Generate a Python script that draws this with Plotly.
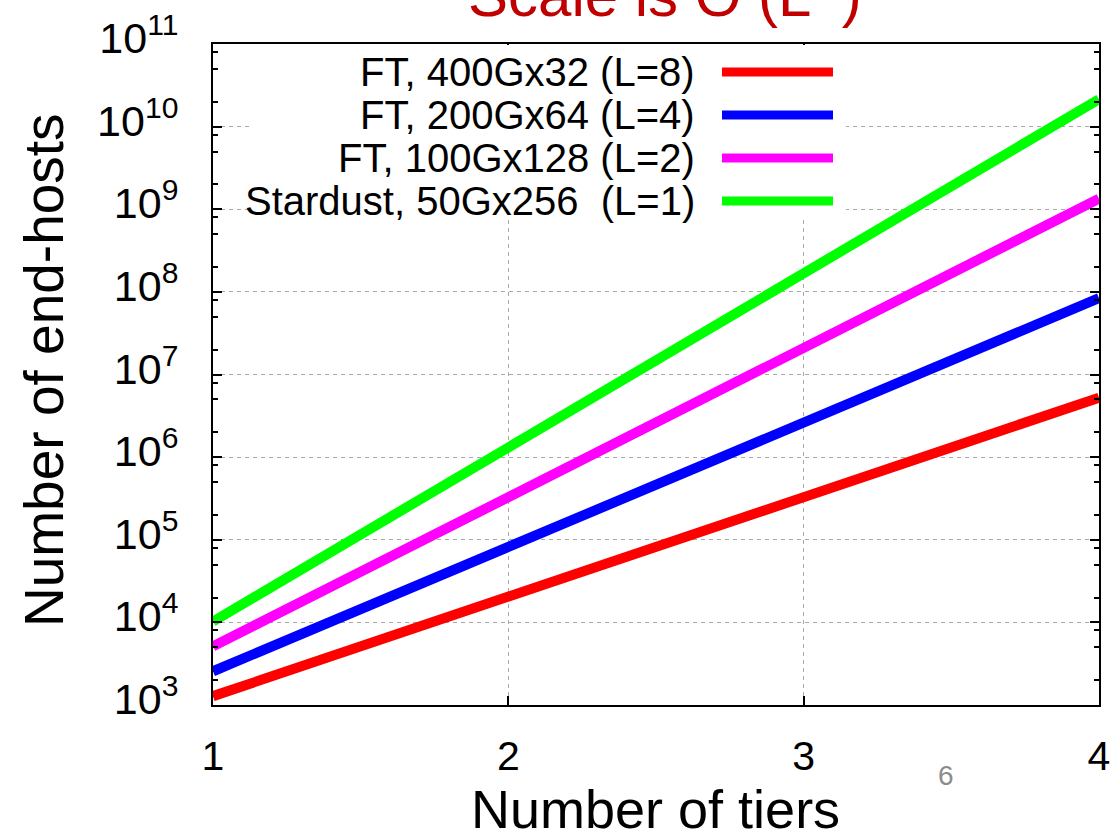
import plotly.graph_objects as go

# ---- data ----
tiers = [1, 2, 3, 4]
series_names = [
    "FT, 400Gx32 (L=8)",
    "FT, 200Gx64 (L=4)",
    "FT, 100Gx128 (L=2)",
    "Stardust, 50Gx256  (L=1)",
]
hosts_ft_400g = [1280, 20480, 327680, 5242880]
hosts_ft_200g = [2560, 81920, 2621440, 83886080]
hosts_ft_100g = [5120, 327680, 20971520, 1342177280]
hosts_stardust = [10240, 1310720, 167772160, 21474836480]
series_values = [hosts_ft_400g, hosts_ft_200g, hosts_ft_100g, hosts_stardust]
series_colors = ["#ff0000", "#0000ff", "#ff00ff", "#00ff00"]

y_exponents = list(range(3, 12))
y_tickvals = [10 ** e for e in y_exponents]
y_ticktext = ["10<sup>%d</sup>" % e for e in y_exponents]
x_tickvals = [1, 2, 3, 4]
x_ticktext = ["1", "2", "3", "4"]
minor_vals = [m * 10 ** e for e in range(3, 11) for m in (2, 5, 8)]

# ---- layout geometry (pixels) ----
W, H = 1110, 832
PL, PR, PT, PB = 213, 1099, 44, 705


def px_x(px):
    return (px - PL) / (PR - PL)


def px_y(py):
    return (PB - py) / (PB - PT)


FONT = "Liberation Sans, Arial, sans-serif"

fig = go.Figure()
for name, vals, col in zip(series_names, series_values, series_colors):
    fig.add_trace(go.Scatter(x=tiers, y=vals, mode="lines", name=name,
                             line=dict(color=col, width=10), showlegend=False))

axis_common = dict(
    showline=True, linecolor="#000000", linewidth=2, mirror="ticks",
    ticks="inside", ticklen=9, tickwidth=1.5, tickcolor="#000000",
    showgrid=True, gridcolor="#a8a8a8", gridwidth=1, griddash="4px,4px",
    zeroline=False, ticklabeloverflow="allow",
)

fig.update_xaxes(range=[1, 4], tickmode="array", tickvals=x_tickvals,
                 ticktext=x_ticktext, ticklabelstandoff=14,
                 tickfont=dict(family=FONT, size=41, color="#000000"),
                 **axis_common)
fig.update_yaxes(type="log", range=[3, 11], tickmode="array",
                 tickvals=y_tickvals, ticktext=y_ticktext,
                 ticklabelstandoff=24, ticklabelshift=-6,
                 tickfont=dict(family=FONT, size=43, color="#000000"),
                 minor=dict(tickmode="array", tickvals=minor_vals, ticks="inside",
                            ticklen=5, tickwidth=1.5, tickcolor="#000000",
                            showgrid=False),
                 **axis_common)

shapes = []
annotations = []
# legend mask (opaque key area)
shapes.append(dict(type="rect", xref="paper", yref="paper",
                   x0=px_x(250), x1=px_x(846), y0=px_y(218), y1=px_y(45),
                   fillcolor="#ffffff", line=dict(width=0), layer="above"))
row_y = [72, 115, 158, 201]
for name, col, ry in zip(series_names, series_colors, row_y):
    annotations.append(dict(xref="paper", yref="paper", x=px_x(697), y=px_y(ry),
                            xanchor="right", yanchor="middle", showarrow=False,
                            text=name, font=dict(family=FONT, size=40, color="#000000")))
    shapes.append(dict(type="line", xref="paper", yref="paper",
                       x0=px_x(722), x1=px_x(833), y0=px_y(ry), y1=px_y(ry),
                       line=dict(color=col, width=9), layer="above"))

# axis titles
annotations.append(dict(xref="paper", yref="paper", x=px_x(655), y=px_y(809),
                        xanchor="center", yanchor="middle", showarrow=False,
                        text="Number of tiers",
                        font=dict(family=FONT, size=54, color="#000000")))
annotations.append(dict(xref="paper", yref="paper", x=px_x(44), y=px_y(370),
                        xanchor="center", yanchor="middle", showarrow=False,
                        textangle=-90, text="Number of end-hosts",
                        font=dict(family=FONT, size=55, color="#000000")))
# slide title (cut off at the top of the page)
annotations.append(dict(xref="paper", yref="paper", x=px_x(665), y=px_y(31),
                        xanchor="center", yanchor="bottom", showarrow=False,
                        text="Scale is O (L<sup>N</sup>)",
                        font=dict(family=FONT, size=60, color="#c00000")))
# slide page number
annotations.append(dict(xref="paper", yref="paper", x=px_x(946), y=px_y(775),
                        xanchor="center", yanchor="middle", showarrow=False,
                        text="6", font=dict(family=FONT, size=28, color="#8c8c8c")))

fig.update_layout(
    width=W, height=H,
    margin=dict(l=PL, r=W - PR, t=PT, b=H - PB, autoexpand=False),
    paper_bgcolor="#ffffff", plot_bgcolor="#ffffff",
    shapes=shapes, annotations=annotations, showlegend=False,
)

fig.write_html(
    "out.html",
    config={"displayModeBar": False},
    post_script="document.body.style.margin='0';document.body.style.overflow='hidden';",
)
